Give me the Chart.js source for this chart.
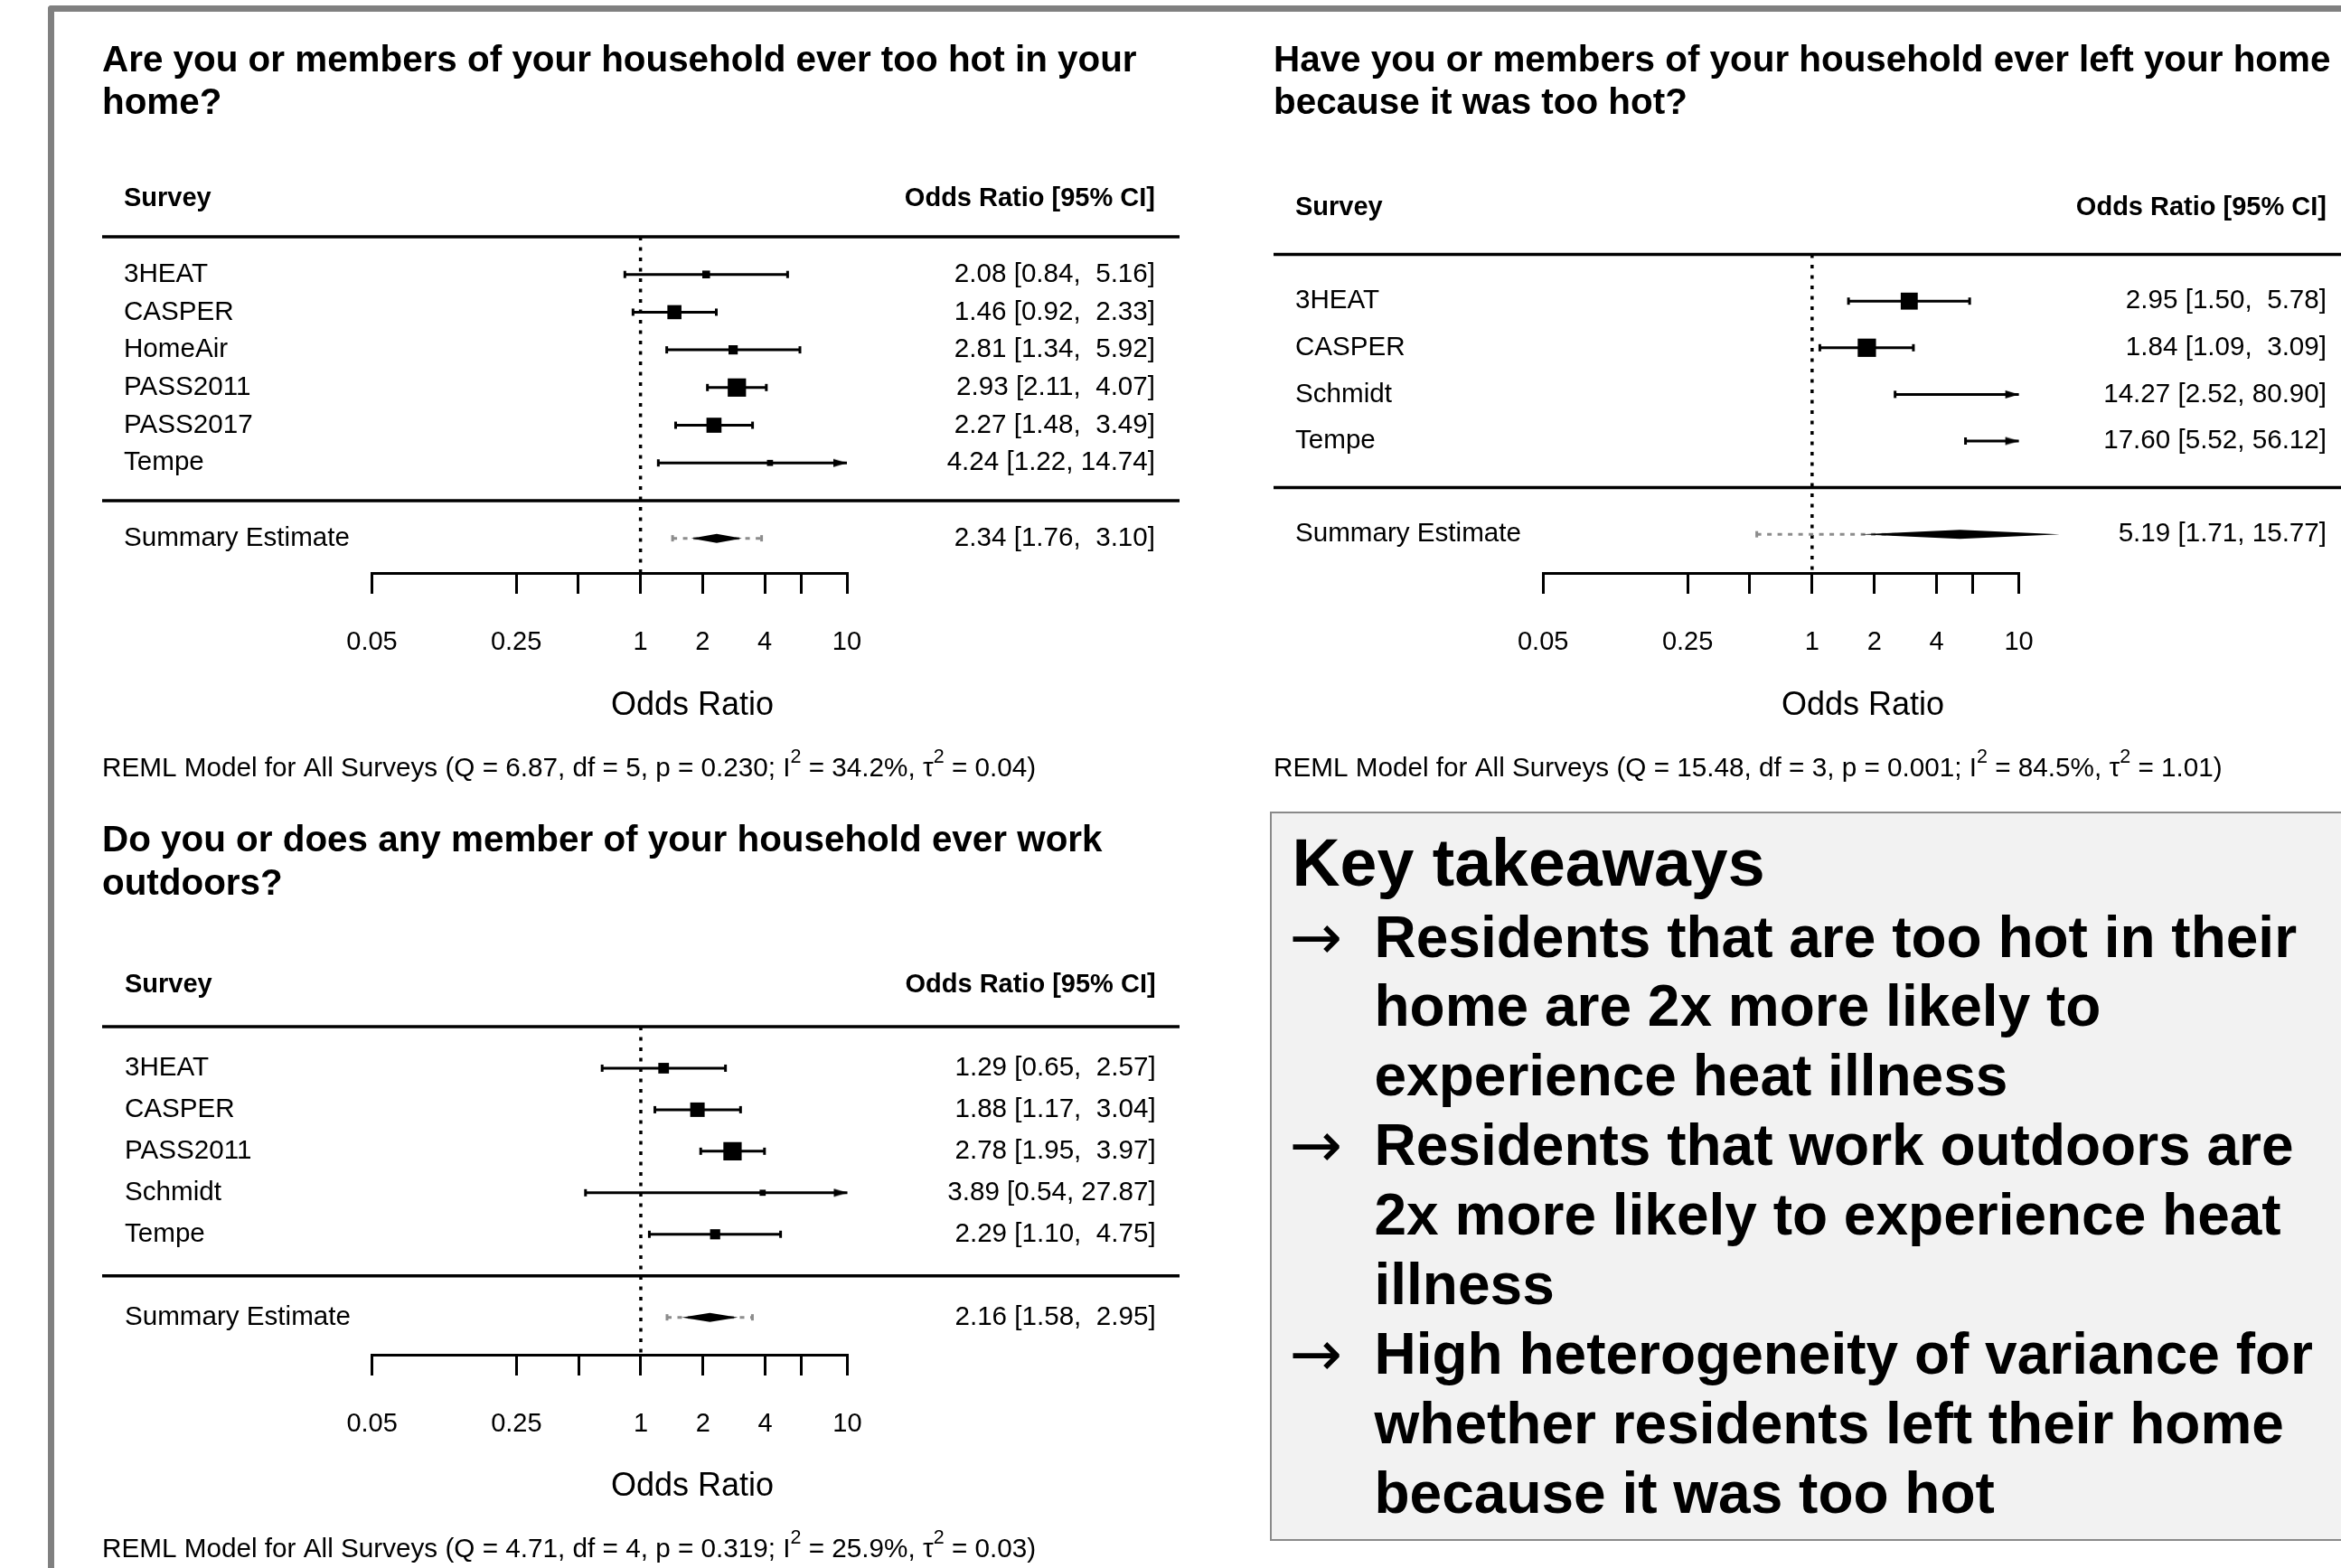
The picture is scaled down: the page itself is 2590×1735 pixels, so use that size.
<!DOCTYPE html>
<html>
<head>
<meta charset="utf-8">
<script src="https://cdn.jsdelivr.net/npm/chart.js@4.4.1/dist/chart.umd.min.js"></script>
<style>
  html, body { margin: 0; padding: 0; background: #fff; }
  body { width: 2590px; height: 1735px; position: relative; overflow: hidden; font-family: 'Liberation Sans', Arial, sans-serif; }
  #frame { position: absolute; left: 53px; top: 6px; width: 3000px; height: 3000px; border-top: 7.5px solid #808080; border-left: 7.5px solid #808080; border-top-left-radius: 4px; }
  canvas { position: absolute; }
  #keybox { position: absolute; left: 1405px; top: 898px; width: 1300px; height: 807px; box-sizing: border-box; background: #f2f2f2; border: 2.5px solid #8a8a8a; }
  .kt { position: absolute; white-space: nowrap; color: #000; }
</style>
</head>
<body>
<div id="frame"></div>
<canvas id="hotChart" width="1330" height="880" style="left:0px;top:0px"></canvas>
<canvas id="leftChart" width="1260" height="880" style="left:1330px;top:0px"></canvas>
<canvas id="workChart" width="1330" height="855" style="left:0px;top:880px"></canvas>
<div id="keybox"></div>
<script>
// axis ticks (odds ratio, log scale)
const tickValues = [0.05, 0.25, 0.5, 1, 2, 4, 6, 10];
const tickLabels = ['0.05', '0.25', '', '1', '2', '4', '', '10'];

// too hot in the home
const hotTitle = ['Are you or members of your household ever too hot in your', 'home?'];
const hotSurveys = ['3HEAT', 'CASPER', 'HomeAir', 'PASS2011', 'PASS2017', 'Tempe'];
const hotOR = [2.08, 1.46, 2.81, 2.93, 2.27, 4.24];
const hotLower = [0.84, 0.92, 1.34, 2.11, 1.48, 1.22];
const hotUpper = [5.16, 2.33, 5.92, 4.07, 3.49, 14.74];
const hotSummary = [2.34, 1.76, 3.10];
const hotPred = [1.43, 3.86];
const hotModel = [6.87, 5, 0.230, 34.2, 0.04]; // Q, df, p, I2, tau2

// left home because too hot
const leftTitle = ['Have you or members of your household ever left your home', 'because it was too hot?'];
const leftSurveys = ['3HEAT', 'CASPER', 'Schmidt', 'Tempe'];
const leftOR = [2.95, 1.84, 14.27, 17.60];
const leftLower = [1.50, 1.09, 2.52, 5.52];
const leftUpper = [5.78, 3.09, 80.90, 56.12];
const leftSummary = [5.19, 1.71, 15.77];
const leftPred = [0.54, 49.9];
const leftModel = [15.48, 3, 0.001, 84.5, 1.01];

// work outdoors
const workTitle = ['Do you or does any member of your household ever work', 'outdoors?'];
const workSurveys = ['3HEAT', 'CASPER', 'PASS2011', 'Schmidt', 'Tempe'];
const workOR = [1.29, 1.88, 2.78, 3.89, 2.29];
const workLower = [0.65, 1.17, 1.95, 0.54, 1.10];
const workUpper = [2.57, 3.04, 3.97, 27.87, 4.75];
const workSummary = [2.16, 1.58, 2.95];
const workPred = [1.34, 3.47];
const workModel = [4.71, 4, 0.319, 25.9, 0.03];

const keyTitle = 'Key takeaways';
const keyPoints = [
    ['Residents that are too hot in their', 'home are 2x more likely to', 'experience heat illness'],
    ['Residents that work outdoors are', '2x more likely to experience heat', 'illness'],
    ['High heterogeneity of variance for', 'whether residents left their home', 'because it was too hot'],
];

const FONT = "'Liberation Sans', Arial, sans-serif";
const BOX_BASE = 13.5;
Chart.defaults.font.family = FONT;
Chart.defaults.color = '#000';

function makeArrow() {
    const L = 15, H = 4.5;
    const cv = document.createElement('canvas');
    cv.width = 2 * L + 2;
    cv.height = 2 * H + 2;
    const a = cv.getContext('2d');
    a.fillStyle = '#000';
    a.beginPath();
    a.moveTo(L + 1, H + 1);
    a.lineTo(1, 1);
    a.lineTo(1, 2 * H + 1);
    a.closePath();
    a.fill();
    return cv;
}
const arrowImg = makeArrow();

function boxSizes(lower, upper, tau2) {
    const w = lower.map((lo, i) => {
        const se = (Math.log(upper[i]) - Math.log(lo)) / (2 * 1.959964);
        return 1 / (se * se + tau2);
    });
    const mn = Math.min(...w), mx = Math.max(...w);
    return w.map(v => BOX_BASE * (0.5 + (v - mn) / (mx - mn)));
}

function forest(canvasId, d, p) {
    const canvas = document.getElementById(canvasId);
    const ctx = canvas.getContext('2d');
    const k = d.surveys.length;
    const xMin = tickValues[0], xMax = tickValues[tickValues.length - 1];
    const yMax = k + 1;
    const sizes = boxSizes(d.lower, d.upper, d.model[4]);

    const hiW = Math.max(...d.upper.concat([d.summary[2]]).map(v => v.toFixed(2).length));
    const loW = Math.max(...d.lower.concat([d.summary[1]]).map(v => v.toFixed(2).length));
    const ciText = (e, lo, hi) => e.toFixed(2) + ' [' + lo.toFixed(2).padStart(loW, ' ') + ', ' + hi.toFixed(2).padStart(hiW, ' ') + ']';

    const sets = [];
    sets.push({
        data: [{ x: 1, y: yMax }, { x: 1, y: p.yMin }], showLine: true, order: 10,
        borderColor: '#000', borderWidth: 3.5, borderDash: [4, 7.5], pointRadius: 0,
    });
    const pred = d.pred;
    sets.push({
        data: [{ x: Math.max(pred[0], xMin), y: -1 }, { x: Math.min(pred[1], xMax), y: -1 }], showLine: true, order: 9,
        borderColor: '#8c8c8c', borderWidth: 3, borderDash: [5, 6.5], pointRadius: 0,
    });
    sets.push({
        data: pred.filter(v => v >= xMin && v <= xMax).map(v => ({ x: v, y: -1 })), order: 9,
        pointStyle: 'line', pointRotation: 90, pointRadius: 3.5, pointBorderWidth: 3, pointBorderColor: '#8c8c8c',
    });
    d.surveys.forEach((s, i) => {
        sets.push({
            data: [{ x: Math.max(d.lower[i], xMin), y: k - i }, { x: Math.min(d.upper[i], xMax), y: k - i }],
            showLine: true, order: 5, borderColor: '#000', borderWidth: 3, pointRadius: 0,
        });
    });
    const caps = [];
    const arrows = [];
    d.surveys.forEach((s, i) => {
        if (d.lower[i] >= xMin) caps.push({ x: d.lower[i], y: k - i });
        if (d.upper[i] <= xMax) caps.push({ x: d.upper[i], y: k - i });
        else arrows.push({ x: xMax, y: k - i });
    });
    sets.push({
        data: caps, order: 5, pointStyle: 'line', pointRotation: 90, pointRadius: 4,
        pointBorderWidth: 3, pointBorderColor: '#000',
    });
    sets.push({ data: arrows, order: 4, pointStyle: arrowImg, pointRadius: 8 });
    const inside = d.or.map((v, i) => i).filter(i => d.or[i] >= xMin && d.or[i] <= xMax);
    sets.push({
        data: inside.map(i => ({ x: d.or[i], y: k - i })), order: 3,
        pointStyle: 'rect', pointRadius: inside.map(i => sizes[i] / Math.SQRT2),
        pointBackgroundColor: '#000', pointBorderWidth: 0,
    });
    sets.forEach(s => { s.clip = false; });
    const sm = d.summary;

    const X = v => v - p.ox, Y = v => v - p.oy;
    const m = d.model;
    const reml = [
        ['REML Model for All Surveys (Q = ' + m[0].toFixed(2) + ', df = ' + m[1] + ', p = ' + m[2].toFixed(3) + '; I', false],
        ['2', true],
        [' = ' + m[3].toFixed(1) + '%, \u03c4', false],
        ['2', true],
        [' = ' + m[4].toFixed(2) + ')', false],
    ];

    new Chart(ctx, {
        type: 'scatter',
        data: { datasets: sets },
        options: {
            responsive: false,
            animation: false,
            devicePixelRatio: 1,
            layout: {
                padding: {
                    left: p.area.left - p.ox,
                    right: p.ox + p.w - p.area.right,
                    top: p.area.top - p.oy,
                    bottom: 0,
                }
            },
            scales: {
                x: {
                    type: 'logarithmic',
                    position: 'bottom',
                    min: xMin,
                    max: xMax,
                    afterBuildTicks: (axis) => { axis.ticks = tickValues.map(v => ({ value: v })); },
                    afterFit: (axis) => { axis.height = p.oy + p.h - p.area.bottom; },
                    ticks: {
                        callback: (v, i) => tickLabels[i],
                        autoSkip: false, maxRotation: 0, minRotation: 0,
                        padding: 37, color: '#000', font: { size: 29 },
                    },
                    grid: {
                        drawOnChartArea: false, drawTicks: true, tickLength: 23,
                        tickWidth: 3, tickColor: '#000', color: '#000', lineWidth: 3,
                    },
                    border: { display: true, color: '#000', width: 3 },
                },
                y: { type: 'linear', min: p.yMin, max: yMax, display: false },
            },
            plugins: {
                legend: { display: false },
                tooltip: { enabled: false },
            },
        },
        plugins: [
            {
                // summary diamond, drawn through the chart's scales (may run past the axis limit)
                id: 'summaryDiamond',
                afterDatasetsDraw: (chart) => {
                    const c = chart.ctx;
                    const xs = chart.scales.x, ys = chart.scales.y;
                    const yc = ys.getPixelForValue(-1);
                    c.save();
                    c.fillStyle = '#000';
                    c.beginPath();
                    c.moveTo(xs.getPixelForValue(sm[1]), yc);
                    c.lineTo(xs.getPixelForValue(sm[0]), yc - 5);
                    c.lineTo(xs.getPixelForValue(sm[2]), yc);
                    c.lineTo(xs.getPixelForValue(sm[0]), yc + 5);
                    c.closePath();
                    c.fill();
                    c.restore();
                }
            },
            {
                id: 'forestText',
                afterDraw: (chart) => {
                    const c = chart.ctx;
                    const ys = chart.scales.y;
                    const py = v => ys.getPixelForValue(v);
                    c.save();
                    c.fillStyle = '#000';
                    c.strokeStyle = '#000';
                    c.textBaseline = 'middle';
                    c.textAlign = 'left';
                    c.font = 'bold 40.4px ' + FONT;
                    d.title.forEach((t, i) => c.fillText(t, X(p.titleX), Y(p.titleY[i])));

                    c.font = 'bold 29px ' + FONT;
                    c.fillText('Survey', X(p.labelX), py(k + 2));
                    c.textAlign = 'right';
                    c.fillText('Odds Ratio [95% CI]', X(p.ciRight), py(k + 2));

                    c.lineWidth = 3.5;
                    [k + 1, 0].forEach(r => {
                        c.beginPath();
                        c.moveTo(X(p.lineLeft), py(r));
                        c.lineTo(X(p.lineRight), py(r));
                        c.stroke();
                    });

                    c.font = '29.6px ' + FONT;
                    d.surveys.forEach((s, i) => {
                        c.textAlign = 'left';
                        c.fillText(s, X(p.labelX), py(k - i));
                        c.textAlign = 'right';
                        c.fillText(ciText(d.or[i], d.lower[i], d.upper[i]), X(p.ciRight), py(k - i));
                    });
                    c.textAlign = 'left';
                    c.fillText('Summary Estimate', X(p.labelX), py(-1));
                    c.textAlign = 'right';
                    c.fillText(ciText(sm[0], sm[1], sm[2]), X(p.ciRight), py(-1));

                    c.textAlign = 'center';
                    c.font = '36px ' + FONT;
                    c.fillText('Odds Ratio', X(p.axisTitle[0]), Y(p.axisTitle[1]));

                    c.textAlign = 'left';
                    c.textBaseline = 'alphabetic';
                    let x = X(p.titleX);
                    const yb = Y(p.remlY) + 10.6;
                    reml.forEach(([t, sup]) => {
                        c.font = (sup ? '21.5px ' : '29.7px ') + FONT;
                        c.fillText(t, x, sup ? yb - 15 : yb);
                        x += c.measureText(t).width;
                    });
                    c.restore();
                }
            }
        ],
    });
}

forest('hotChart',
    { title: hotTitle, surveys: hotSurveys, or: hotOR, lower: hotLower, upper: hotUpper, summary: hotSummary, pred: hotPred, model: hotModel },
    { ox: 0, oy: 0, w: 1330, h: 880, area: { left: 411.5, right: 937, top: 262, bottom: 634 }, yMin: -1.92,
      titleX: 113, titleY: [68, 115], labelX: 137, ciRight: 1278, lineLeft: 113, lineRight: 1305, axisTitle: [766, 781], remlY: 848 });

forest('leftChart',
    { title: leftTitle, surveys: leftSurveys, or: leftOR, lower: leftLower, upper: leftUpper, summary: leftSummary, pred: leftPred, model: leftModel },
    { ox: 1330, oy: 0, w: 1260, h: 880, area: { left: 1707.2, right: 2233.6, top: 281.6, bottom: 634 }, yMin: -1.83,
      titleX: 1409, titleY: [68, 115], labelX: 1433, ciRight: 2574, lineLeft: 1409, lineRight: 2590, axisTitle: [2061, 781], remlY: 848.5 });

forest('workChart',
    { title: workTitle, surveys: workSurveys, or: workOR, lower: workLower, upper: workUpper, summary: workSummary, pred: workPred, model: workModel },
    { ox: 0, oy: 880, w: 1330, h: 855, area: { left: 411.6, right: 937.5, top: 1136, bottom: 1499 }, yMin: -1.9,
      titleX: 113, titleY: [931, 979], labelX: 138, ciRight: 1278.6, lineLeft: 113, lineRight: 1305, axisTitle: [766, 1645], remlY: 1712.6 });

// key takeaways box
const box = document.getElementById('keybox');
const bx = 1407.5, by = 900.5;
function addText(txt, left, cy, size, weight, lh, family) {
    const el = document.createElement('div');
    el.className = 'kt';
    el.textContent = txt;
    el.style.left = (left - bx) + 'px';
    el.style.top = (cy - by - lh / 2) + 'px';
    el.style.fontSize = size + 'px';
    el.style.lineHeight = lh + 'px';
    el.style.fontWeight = weight;
    if (family) el.style.fontFamily = family;
    box.appendChild(el);
}
addText(keyTitle, 1430, 955, 73.5, 'bold', 80);
let line = 0;
keyPoints.forEach(pt => {
    pt.forEach((t, j) => {
        const cy = 1037 + line * 76.9;
        if (j === 0) addText('\u2192', 1427, cy, 70, 'normal', 76, "'DejaVu Sans', sans-serif");
        addText(t, 1521, cy, 64, 'bold', 76);
        line++;
    });
});
</script>
</body>
</html>
